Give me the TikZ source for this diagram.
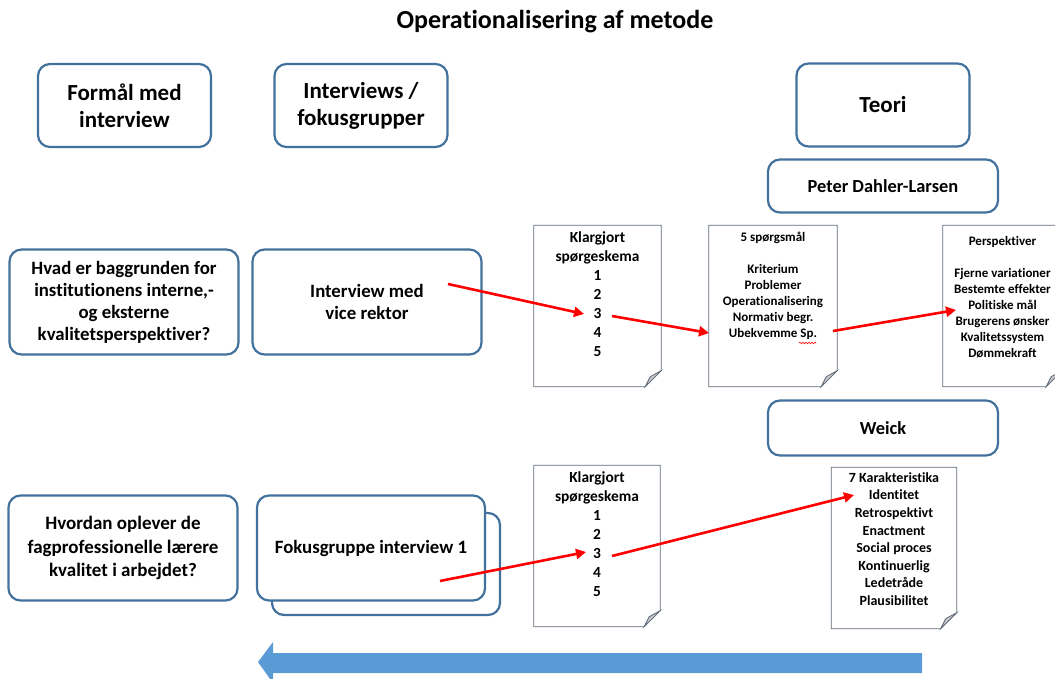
\documentclass[tikz,border=0pt]{standalone}
\usepackage{fontspec}
\setmainfont{Carlito}[Ligatures={NoCommon,NoContextual}]
\usetikzlibrary{arrows.meta,positioning,decorations.pathmorphing}
\definecolor{boxblue}{HTML}{41719C}
\definecolor{bigblue}{HTML}{5B9BD5}
\definecolor{docgray}{HTML}{5F6B7A}
\definecolor{foldgray}{HTML}{C8C8C8}
\tikzset{
  rbox/.style={draw=boxblue, line width=2.2pt, rounded corners=12pt, fill=white,
    align=center, inner sep=2pt},
  headbox/.style={rbox, minimum width=173pt, minimum height=83pt,
    font=\bfseries\fontsize{23}{27}\selectfont},
  qbox/.style={rbox, minimum width=229pt, minimum height=105pt,
    font=\bfseries\fontsize{18.8}{22}\selectfont},
  namebox/.style={rbox, minimum width=230pt, minimum height=53pt,
    font=\bfseries\fontsize{18.4}{22}\selectfont},
  paper/.style={minimum width=#1, minimum height=161pt, inner sep=0pt},
  docline/.style={draw=docgray, line width=0.8pt},
  bigtxt/.style={align=center, inner sep=0pt, font=\bfseries\fontsize{15.4}{19}\selectfont},
  smalltxt/.style={align=center, inner sep=0pt, font=\bfseries\fontsize{13}{16}\selectfont},
  redarrow/.style={draw=red, line width=2.6pt, -{Triangle[length=10pt,width=10pt]}}
}
\begin{document}
\begin{tikzpicture}[x=1pt, y=-1pt]
  \useasboundingbox (0,0) rectangle (1055,679);

  \node[font=\bfseries\fontsize{26}{30}\selectfont] (title) at (555,22) {Operationalisering af metode};

  % column heads
  \node[headbox] (formaal) at (124.5,105.5) {Formål med\\interview};
  \node[headbox] (interv) at (361,105.5) {Interviews /\\fokusgrupper};
  \node[headbox] (teori) at (883,105) {Teori};
  \node[namebox] (dahler) at (883,186) {Peter Dahler-Larsen};
  \node[namebox, minimum height=55pt] (weick) at (883,428) {Weick};

  % questions and interviews
  \node[qbox] (hvad) at (124,302) {Hvad er baggrunden for\\institutionens interne,-\\og eksterne\\kvalitetsperspektiver?};
  \node[qbox] (vice) at (367,302) {Interview med\\vice rektor};
  \node[qbox, font=\bfseries\fontsize{19}{23.5}\selectfont] (hvordan) at (123,548) {Hvordan oplever de\\fagprofessionelle lærere\\kvalitet i arbejdet?};
  \node[qbox, minimum width=228pt, minimum height=102pt] (fokusbag) at (386,564) {};
  \node[qbox, minimum width=228pt] (fokus) at (371,548) {Fokusgruppe interview 1};

  % documents
  \node[paper=127pt] (kl1) at (597.5,306) {};
  \node[paper=128pt] (spm) at (773,306) {};
  \node[paper=119pt] (persp) at (1002.5,306) {};
  \node[paper=126pt] (kl2) at (597,546) {};
  \node[paper=125pt] (kar) at (894,548) {};
  \foreach \d in {kl1,spm,persp,kl2,kar} {
    \draw[docline, fill=white] (\d.north west) -- (\d.north east) -- ([yshift=16pt]\d.south east)
      -- ([xshift=-16pt]\d.south east) -- (\d.south west) -- cycle;
    \draw[docline, fill=foldgray] ([yshift=16pt]\d.south east) -- ([xshift=-11pt,yshift=10pt]\d.south east)
      -- ([xshift=-16pt]\d.south east) -- cycle;
  }
  \node[bigtxt, below=6pt of kl1.north] (kl1t) {Klargjort\\spørgeskema\\1\\2\\3\\4\\5};
  \node[bigtxt, below=6pt of kl2.north] (kl2t) {Klargjort\\spørgeskema\\1\\2\\3\\4\\5};
  \node[smalltxt, below=7pt of spm.north] (spmt) {5 spørgsmål\\[16pt]Kriterium\\Problemer\\Operationalisering\\Normativ begr.\\Ubekvemme Sp.};
  \node[smalltxt, below=11pt of persp.north] (perspt) {Perspektiver\\[16pt]Fjerne variationer\\Bestemte effekter\\Politiske mål\\Brugerens ønsker\\Kvalitetssystem\\Dømmekraft};
  \node[bigtxt, font=\bfseries\fontsize{14}{17.6}\selectfont, below=5pt of kar.north] (kart) {7 Karakteristika\\Identitet\\Retrospektivt\\Enactment\\Social proces\\Kontinuerlig\\Ledetråde\\Plausibilitet};
  \draw[red, line width=0.6pt, decorate, decoration={snake, amplitude=0.8pt, segment length=3pt}] (799,343) -- (816,343);

  % red connectors
  \coordinate (r1a) at (448,284);
  \coordinate (r1b) at (584,314);
  \coordinate (r2a) at (612,316);
  \coordinate (r2b) at (709,333);
  \coordinate (r3a) at (833,331);
  \coordinate (r3b) at (956,310);
  \coordinate (r4a) at (440,581);
  \coordinate (r4b) at (586,552);
  \coordinate (r5a) at (612,556);
  \coordinate (r5b) at (854,495);
  \draw[redarrow] (r1a) -- (r1b);
  \draw[redarrow] (r2a) -- (r2b);
  \draw[redarrow] (r3a) -- (r3b);
  \draw[redarrow] (r4a) -- (r4b);
  \draw[redarrow] (r5a) -- (r5b);

  % big arrow along the bottom
  \fill[bigblue] (258,662) -- (273,642) -- (273,653) -- (922,653) -- (922,673)
    -- (273,673) -- (273,683) -- cycle;
\end{tikzpicture}
\end{document}
